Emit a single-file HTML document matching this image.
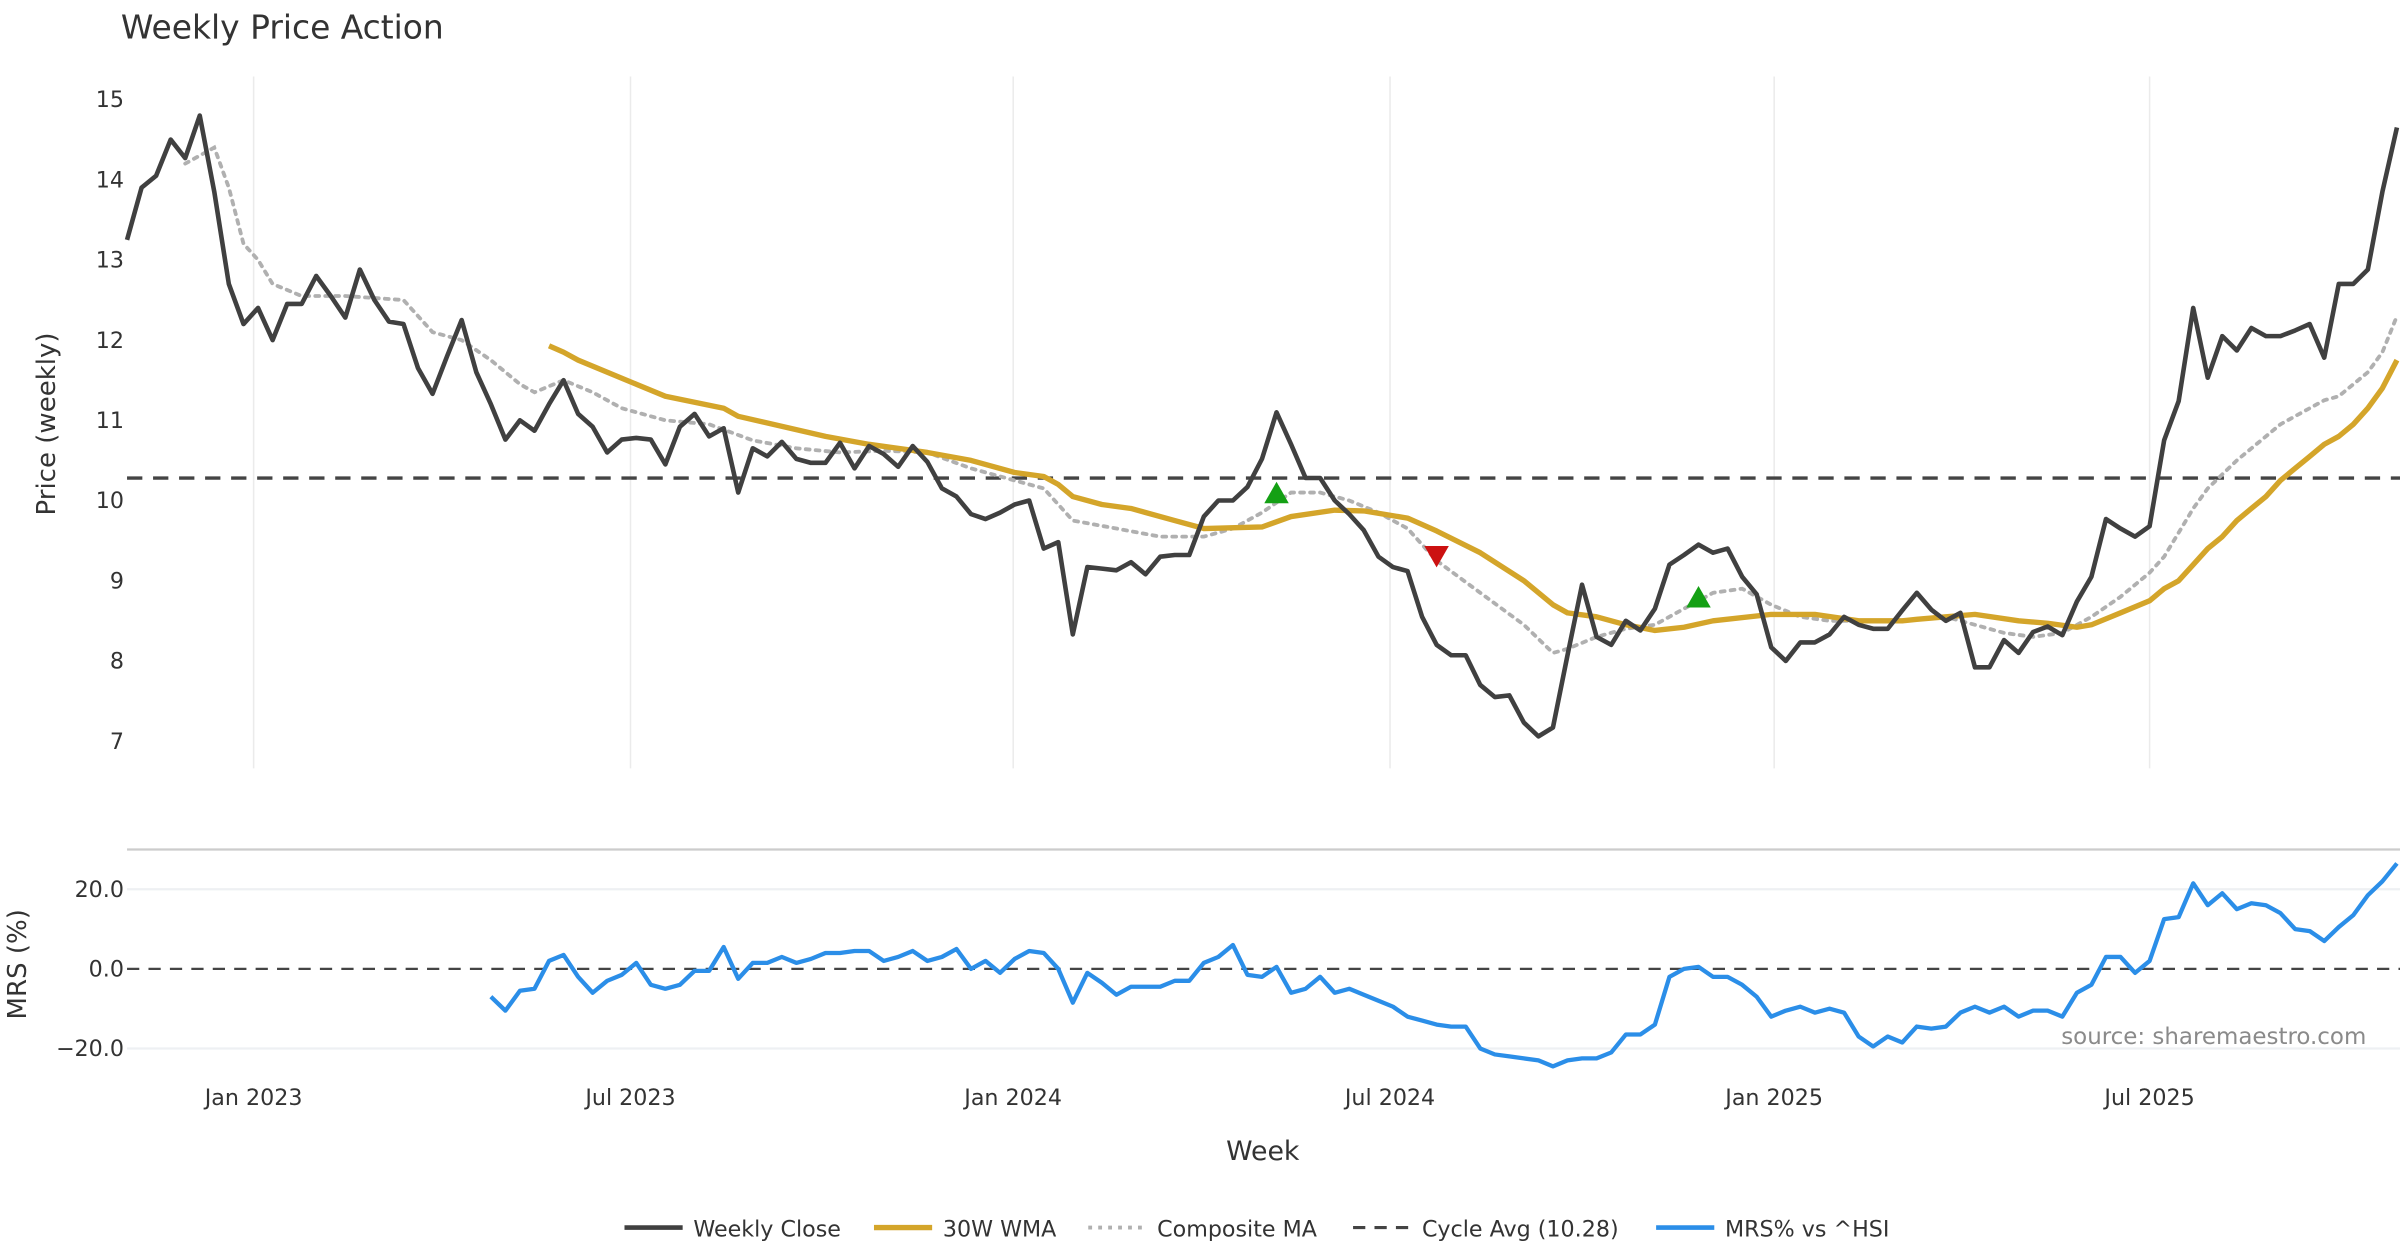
<!DOCTYPE html>
<html><head><meta charset="utf-8"><style>
html,body{margin:0;padding:0;background:#fff;}
svg{display:block;font-family:"DejaVu Sans","Liberation Sans",sans-serif;}
</style></head><body>
<svg id="chart" width="2400" height="1260" viewBox="0 0 1568 823.2" xmlns="http://www.w3.org/2000/svg">
<text x="79" y="25" font-size="21.5" fill="#333">Weekly Price Action</text>
<g id="grid"></g><g id="axes"></g><g id="series"></g><g id="legend"></g>
</svg>
<script>
const closeValues=[13.25,13.9,14.05,14.5,14.27,14.8,13.85,12.7,12.2,12.4,12.0,12.45,12.45,12.8,12.55,12.28,12.88,12.5,12.23,12.2,11.65,11.33,11.8,12.25,11.6,11.2,10.76,11.0,10.87,11.2,11.5,11.08,10.92,10.6,10.76,10.78,10.76,10.45,10.92,11.08,10.8,10.9,10.1,10.65,10.55,10.73,10.52,10.47,10.47,10.72,10.4,10.68,10.58,10.42,10.68,10.48,10.15,10.05,9.83,9.77,9.85,9.95,10.0,9.4,9.48,8.33,9.17,9.15,9.13,9.23,9.08,9.3,9.32,9.32,9.8,10.0,10.0,10.17,10.52,11.1,10.7,10.28,10.28,10.0,9.83,9.63,9.3,9.17,9.12,8.55,8.2,8.07,8.07,7.7,7.55,7.57,7.23,7.06,7.17,8.07,8.95,8.3,8.2,8.5,8.38,8.65,9.2,9.32,9.45,9.35,9.4,9.05,8.83,8.17,8.0,8.23,8.23,8.33,8.55,8.45,8.4,8.4,8.63,8.85,8.64,8.5,8.6,7.92,7.92,8.26,8.1,8.36,8.43,8.32,8.74,9.05,9.77,9.65,9.55,9.68,10.75,11.24,12.4,11.53,12.05,11.87,12.15,12.05,12.05,12.12,12.2,11.78,12.7,12.7,12.88,13.85,14.65];
const wmaWeeks=[29,30,31,37,41,42,48,51,55,58,61,63,64,65,67,69,72,74,78,80,83,85,88,90,93,96,98,99,101,103,105,107,109,113,116,119,122,123,125,127,130,132,134,135,137,139,140,141,142,143,144,145,146,147,148,149,150,151,152,153,154,155,156];
const wmaValues=[11.93,11.85,11.75,11.3,11.15,11.05,10.8,10.7,10.6,10.5,10.35,10.3,10.2,10.05,9.95,9.9,9.75,9.65,9.67,9.8,9.88,9.87,9.78,9.62,9.35,9.0,8.7,8.6,8.55,8.45,8.38,8.42,8.5,8.58,8.58,8.5,8.5,8.52,8.55,8.58,8.5,8.47,8.42,8.45,8.6,8.75,8.9,9.0,9.2,9.4,9.55,9.75,9.9,10.05,10.25,10.4,10.55,10.7,10.8,10.95,11.15,11.4,11.75];
const compWeeks=[4,6,7,8,9,10,12,15,19,21,23,25,27,28,30,32,34,37,40,43,46,49,52,55,58,61,63,65,68,71,74,76,78,80,82,84,86,88,90,93,96,98,99,101,103,105,107,109,111,113,115,117,120,122,125,127,129,131,133,135,137,139,140,141,142,143,145,147,148,150,151,152,154,155,156];
const compValues=[14.2,14.4,13.9,13.2,13.0,12.7,12.55,12.55,12.5,12.1,12.0,11.75,11.45,11.35,11.5,11.35,11.15,11.0,10.95,10.75,10.65,10.6,10.62,10.6,10.4,10.25,10.15,9.75,9.65,9.55,9.55,9.65,9.85,10.1,10.1,10.0,9.85,9.65,9.25,8.85,8.45,8.1,8.15,8.3,8.4,8.45,8.65,8.85,8.9,8.7,8.55,8.5,8.5,8.5,8.55,8.45,8.35,8.3,8.35,8.55,8.8,9.1,9.3,9.6,9.9,10.15,10.5,10.8,10.95,11.15,11.25,11.3,11.6,11.85,12.3];
const mrsStart=25;
const mrsValues=[-7,-10.5,-5.5,-5,2,3.5,-2,-6,-3,-1.5,1.5,-4,-5,-4,-0.5,-0.5,5.5,-2.5,1.5,1.5,3,1.5,2.5,4,4,4.5,4.5,2,3,4.5,2,3,5,0,2,-1,2.5,4.5,4,0,-8.5,-1,-3.5,-6.5,-4.5,-4.5,-4.5,-3,-3,1.5,3,6,-1.5,-2,0.5,-6,-5,-2,-6,-5,-6.5,-8,-9.5,-12,-13,-14,-14.5,-14.5,-20,-21.5,-22,-22.5,-23,-24.5,-23,-22.5,-22.5,-21,-16.5,-16.5,-14,-2,0,0.5,-2,-2,-4,-7,-12,-10.5,-9.5,-11,-10,-11,-17,-19.5,-17,-18.5,-14.5,-15,-14.5,-11,-9.5,-11,-9.5,-12,-10.5,-10.5,-12,-6,-4,3,3,-1,2,12.5,13,21.5,16,19,15,16.5,16,14,10,9.5,7,10.5,13.5,18.5,22,26.5];
const buyWeeks=[79,108];
const buyValues=[10.1,8.8];
const sellWeeks=[90];
const sellValues=[9.3];
const cycleAvg=10.28;
const priceTicks=[7,8,9,10,11,12,13,14,15];
const mrsTicks=[20,0,-20];
const mrsTickLabels=["20.0","0.0","\u221220.0"];
const dateTickWeeks=[8.7,34.6,60.9,86.8,113.2,139.0];
const dateTickLabels=["Jan 2023","Jul 2023","Jan 2024","Jul 2024","Jan 2025","Jul 2025"];

const NS="http://www.w3.org/2000/svg";
const N=closeValues.length;
const xw=i=>83+i*(1566-83)/(N-1);
const yp=v=>65+(15-v)*52.4;
const ym=v=>633-v*2.6;
function mk(parent,tag,attrs,text){const e=document.createElementNS(NS,tag);for(const k in attrs)e.setAttribute(k,attrs[k]);if(text!==undefined)e.textContent=text;document.getElementById(parent).appendChild(e);return e;}

dateTickWeeks.forEach((w,i)=>{
  const g=mk('grid','line',{x1:xw(w),x2:xw(w),y1:50,y2:502,stroke:'#ebebeb','stroke-width':1});
  
  
  const t=mk('axes','text',{x:xw(w),y:722,'font-size':14.5,fill:'#333','text-anchor':'middle'},dateTickLabels[i]);
  
  
});
priceTicks.forEach(v=>{
  const t=mk('axes','text',{x:81,y:yp(v)+5,'font-size':14.5,fill:'#333','text-anchor':'end'},String(v));
  
  
});
mrsTicks.forEach((v,i)=>{
  if(v!==0){const g=mk('grid','line',{x1:83,x2:1568,y1:ym(v),y2:ym(v),stroke:'#eef0f3','stroke-width':1.5});
  
  }
  const t=mk('axes','text',{x:81,y:ym(v)+5,'font-size':14.5,fill:'#333','text-anchor':'end'},mrsTickLabels[i]);
  
  
});
let e;
e=mk('axes','line',{x1:83,x2:1568,y1:555,y2:555,stroke:'#cccccc','stroke-width':1.5});


e=mk('axes','text',{x:36,y:277,'font-size':17,fill:'#333','text-anchor':'middle',transform:'rotate(-90 36 277)'},'Price (weekly)');


e=mk('axes','text',{x:17,y:630,'font-size':17,fill:'#333','text-anchor':'middle',transform:'rotate(-90 17 630)'},'MRS (%)');


e=mk('axes','text',{x:825,y:758,'font-size':17.5,fill:'#333','text-anchor':'middle'},'Week');


e=mk('axes','text',{x:1546,y:682,'font-size':15,fill:'#8a8a8a','text-anchor':'end'},'source: sharemaestro.com');



e=mk('series','line',{x1:83,x2:1568,y1:yp(cycleAvg),y2:yp(cycleAvg),stroke:'#444','stroke-width':2.2,'stroke-dasharray':'10,7'});


e=mk('series','line',{x1:83,x2:1568,y1:ym(0),y2:ym(0),stroke:'#444','stroke-width':1.5,'stroke-dasharray':'8,6'});



const pts=(ws,vs,yf)=>ws.map((w,i)=>xw(w).toFixed(1)+','+yf(vs[i]).toFixed(1)).join(' ');
e=mk('series','polyline',{points:pts(compWeeks,compValues,yp),fill:'none',stroke:'#b0b0b0','stroke-width':2.5,'stroke-dasharray':'2.5,4','stroke-linecap':'round'});


e=mk('series','polyline',{points:pts(wmaWeeks,wmaValues,yp),fill:'none',stroke:'#d4a52a','stroke-width':3.5,'stroke-linejoin':'round'});


e=mk('series','polyline',{points:pts(closeValues.map((v,i)=>i),closeValues,yp),fill:'none',stroke:'#404040','stroke-width':3,'stroke-linejoin':'round'});


e=mk('series','polyline',{points:pts(mrsValues.map((v,i)=>i+mrsStart),mrsValues,ym),fill:'none',stroke:'#2b8ee8','stroke-width':2.8,'stroke-linejoin':'round'});



buyWeeks.forEach((w,i)=>{const x=xw(w),y=yp(buyValues[i]);
  const t=mk('series','polygon',{points:`${x-8},${y+7} ${x+8},${y+7} ${x},${y-7}`,fill:'#14a014'});
  
  });
sellWeeks.forEach((w,i)=>{const x=xw(w),y=yp(sellValues[i]);
  const t=mk('series','polygon',{points:`${x-8},${y-7} ${x+8},${y-7} ${x},${y+7}`,fill:'#cc1111'});
  
  });

const legendItems=[["Weekly Close","#404040","",3,408],["30W WMA","#d4a52a","",3.5,571],["Composite MA","#b0b0b0","2.5,4",2.5,711],["Cycle Avg (10.28)","#444","8,6",2,884],["MRS% vs ^HSI","#2b8ee8","",3,1082]];
legendItems.forEach(it=>{
  const l=mk('legend','line',{x1:it[4],x2:it[4]+38,y1:802,y2:802,stroke:it[1],'stroke-width':it[3],'stroke-dasharray':it[2]});
  
  
  const t=mk('legend','text',{x:it[4]+45,y:808,'font-size':14.5,fill:'#333'},it[0]);
  
  
});
</script>
</body></html>
